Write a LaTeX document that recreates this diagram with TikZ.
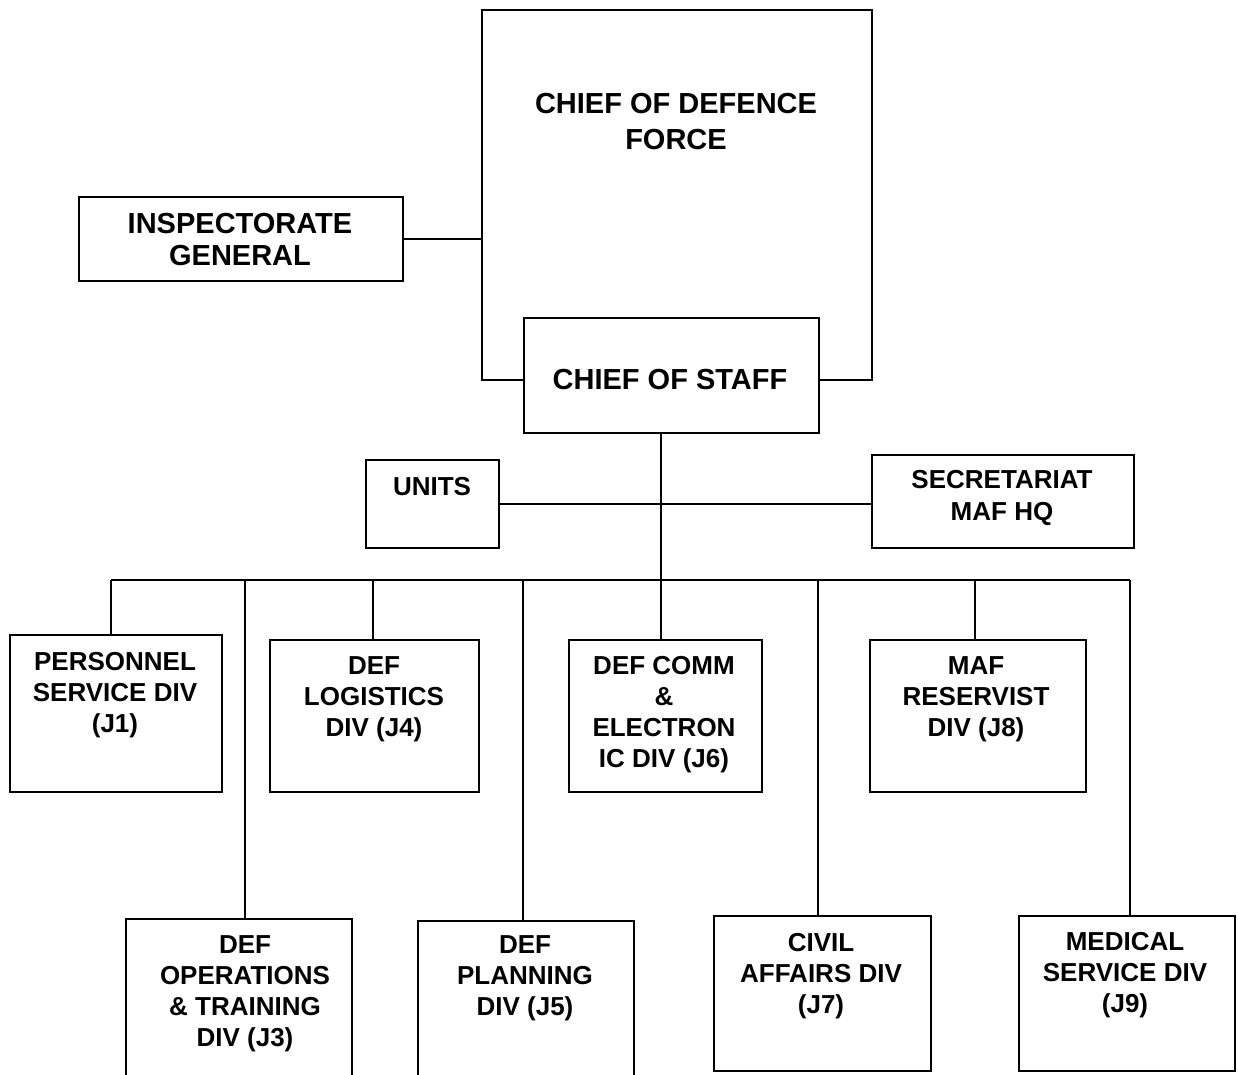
\documentclass[tikz,border=0pt]{standalone}
\usepackage{fontspec}
\setmainfont{Liberation Sans}
\begin{document}
\begin{tikzpicture}[x=1pt,y=-1pt,
  box/.style={draw, line width=1.6pt, fill=white, rectangle, inner sep=0pt, anchor=north west},
  txt/.style={font=\bfseries\fontsize{26}{31}\selectfont, align=center, inner sep=0pt, anchor=north},
  bigtxt/.style={font=\bfseries\fontsize{29}{36}\selectfont, align=center, inner sep=0pt, anchor=north},
  link/.style={line width=1.6pt}]
\useasboundingbox (0,0) rectangle (1238,1074);
\clip (0,0) rectangle (1238,1074);
% boxes
\node[box, minimum width=390pt, minimum height=370pt] (cdf) at (481,9) {};
\node[box, minimum width=324pt, minimum height=84pt] (insp) at (78,196) {};
\node[box, minimum width=133pt, minimum height=88pt] (units) at (365,459) {};
\node[box, minimum width=262pt, minimum height=93pt] (sec) at (871,454) {};
\node[box, minimum width=212pt, minimum height=157pt] (j1) at (9,634) {};
\node[box, minimum width=209pt, minimum height=152pt] (j4) at (269,639) {};
\node[box, minimum width=193pt, minimum height=152pt] (j6) at (568,639) {};
\node[box, minimum width=216pt, minimum height=152pt] (j8) at (869,639) {};
\node[box, minimum width=226pt, minimum height=180pt] (j3) at (125,918) {};
\node[box, minimum width=216pt, minimum height=180pt] (j5) at (417,920) {};
\node[box, minimum width=217pt, minimum height=155pt] (j7) at (713,915) {};
\node[box, minimum width=216pt, minimum height=155pt] (j9) at (1018,915) {};
% chief of staff box drawn over the bottom edge of the CDF box
\node[box, minimum width=295pt, minimum height=115pt] (cos) at (523,317) {};
% texts
\node[bigtxt] (cdft) at (676,93.5) {CHIEF OF DEFENCE\\FORCE};
\node[bigtxt, font=\bfseries\fontsize{29}{32}\selectfont] (inspt) at (240,213.5) {INSPECTORATE\\GENERAL};
\node[bigtxt] (cost) at (670,369.5) {CHIEF OF STAFF};
\node[txt] (unitst) at (432,477.5) {UNITS};
\node[txt, font=\bfseries\fontsize{26}{32}\selectfont] (sect) at (1002,470.5) {SECRETARIAT\\MAF HQ};
\node[txt] (j1t) at (115,652.5) {PERSONNEL\\SERVICE DIV\\(J1)};
\node[txt] (j4t) at (374,656.5) {DEF\\LOGISTICS\\DIV (J4)};
\node[txt] (j6t) at (664,656.5) {DEF COMM\\\&\\ELECTRON\\IC DIV (J6)};
\node[txt] (j8t) at (976,656.5) {MAF\\RESERVIST\\DIV (J8)};
\node[txt] (j3t) at (245,935.5) {DEF\\OPERATIONS\\\& TRAINING\\DIV (J3)};
\node[txt] (j5t) at (525,935.5) {DEF\\PLANNING\\DIV (J5)};
\node[txt] (j7t) at (821,933.5) {CIVIL\\AFFAIRS DIV\\(J7)};
\node[txt] (j9t) at (1125,932.5) {MEDICAL\\SERVICE DIV\\(J9)};
% connectors
\coordinate (trunk) at (661,432);
\coordinate (busL) at (111,580);
\coordinate (busR) at (1130,580);
\draw[link] (insp.east) -- (cdf.west |- insp.east);
\draw[link] (cos.south -| trunk) -- (j6.north -| trunk);
\draw[link] (units.east) -- (units.east -| sec.west);
\draw[link] (busL) -- (busR);
\draw[link] (busL) -- (busL |- j1.north);
\draw[link] (245,580) -- (j3.north -| 245,580);
\draw[link] (373,580) -- (j4.north -| 373,580);
\draw[link] (523,580) -- (j5.north -| 523,580);
\draw[link] (818,580) -- (j7.north -| 818,580);
\draw[link] (975,580) -- (j8.north -| 975,580);
\draw[link] (busR) -- (busR |- j9.north);
\end{tikzpicture}
\end{document}
